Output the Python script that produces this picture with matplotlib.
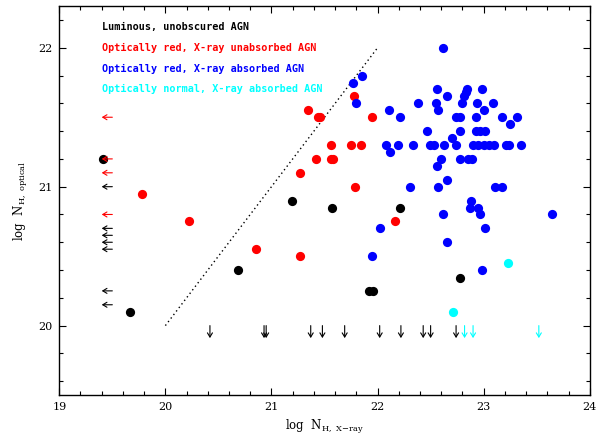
import matplotlib
matplotlib.use("Agg")
import matplotlib.pyplot as plt
from matplotlib.ticker import MultipleLocator

# ---------------- data ----------------
black_x = [19.41, 19.67, 20.68, 21.19, 21.57, 22.21, 21.92, 21.96, 22.78]
black_y = [21.20, 20.10, 20.40, 20.90, 20.85, 20.85, 20.25, 20.25, 20.34]

red_x = [19.78, 20.22, 20.85, 21.27, 21.34, 21.44, 21.46, 21.95, 21.78,
         21.56, 21.75, 21.84, 21.42, 21.56, 21.58, 21.27, 21.79, 22.16]
red_y = [20.95, 20.75, 20.55, 20.50, 21.55, 21.50, 21.50, 21.50, 21.65,
         21.30, 21.30, 21.30, 21.20, 21.20, 21.20, 21.10, 21.00, 20.75]

blue_x = [21.85, 21.77, 21.80, 22.11, 22.21, 22.38, 22.47, 22.08, 22.12,
          22.19, 22.33, 22.49, 22.31, 22.02, 21.95,
          22.62, 22.56, 22.84, 22.98, 22.65, 22.81, 22.83, 22.55, 22.57,
          22.80, 22.94, 23.09, 23.00, 22.74, 22.78, 22.93, 23.17, 23.31,
          23.25, 22.78, 22.93, 22.97, 23.01, 22.70,
          22.53, 22.63, 22.74, 22.90, 22.95, 23.00, 23.05, 23.10, 23.21,
          23.24, 23.35,
          22.60, 22.78, 22.85, 22.89, 22.56, 22.65, 22.57, 23.11, 23.17,
          22.88, 22.87, 22.95, 22.97, 22.62, 23.64, 23.01, 22.65, 22.98]
blue_y = [21.80, 21.75, 21.60, 21.55, 21.50, 21.60, 21.40, 21.30, 21.25,
          21.30, 21.30, 21.30, 21.00, 20.70, 20.50,
          22.00, 21.70, 21.70, 21.70, 21.65, 21.65, 21.68, 21.60, 21.55,
          21.60, 21.60, 21.60, 21.55, 21.50, 21.50, 21.50, 21.50, 21.50,
          21.45, 21.40, 21.40, 21.40, 21.40, 21.35,
          21.30, 21.30, 21.30, 21.30, 21.30, 21.30, 21.30, 21.30, 21.30,
          21.30, 21.30,
          21.20, 21.20, 21.20, 21.20, 21.15, 21.05, 21.00, 21.00, 21.00,
          20.90, 20.85, 20.85, 20.80, 20.80, 20.80, 20.70, 20.60, 20.40]

cyan_x = [23.23, 22.71]
cyan_y = [20.45, 20.10]

# upper limits on X-ray N_H (left arrows)
left_arrow_black_y = [21.00, 20.70, 20.65, 20.60, 20.55, 20.25, 20.15]
left_arrow_red_y = [21.50, 21.20, 21.10, 20.80]
left_arrow_from, left_arrow_to = 19.50, 19.40

# upper limits on optical N_H (down arrows)
down_arrow_black_x = [20.42, 20.93, 20.95, 21.37, 21.48, 21.69, 22.02,
                      22.22, 22.43, 22.50, 22.74]
down_arrow_cyan_x = [22.82, 22.90, 23.52]
down_arrow_from, down_arrow_to = 20.00, 19.91

line_x = [20.0, 22.0]
line_y = [20.0, 22.0]

legend_labels = ["Luminous, unobscured AGN",
                 "Optically red, X-ray unabsorbed AGN",
                 "Optically red, X-ray absorbed AGN",
                 "Optically normal, X-ray absorbed AGN"]
legend_colors = ["black", "red", "blue", "cyan"]
legend_x = 19.40
legend_y = [22.15, 22.00, 21.85, 21.70]

# ---------------- plot ----------------
plt.rcParams['mathtext.fontset'] = 'dejavuserif'
fig = plt.figure(figsize=(6.08, 4.37), dpi=100)
ax = fig.add_axes([0.0975, 0.096, 0.8725, 0.890])

ax.plot(line_x, line_y, linestyle=(0, (1, 2.2)), color='black', lw=1.0)

ms = 44
ax.scatter(black_x, black_y, s=ms, color='black', zorder=3, linewidths=0)
ax.scatter(red_x, red_y, s=ms, color='red', zorder=3, linewidths=0)
ax.scatter(blue_x, blue_y, s=ms, color='blue', zorder=3, linewidths=0)
ax.scatter(cyan_x, cyan_y, s=ms, color='cyan', zorder=3, linewidths=0)

aprops = dict(arrowstyle='->,head_length=0.3,head_width=0.18', lw=0.8,
              shrinkA=0, shrinkB=0)
for y in left_arrow_black_y:
    ax.annotate('', xy=(left_arrow_to, y), xytext=(left_arrow_from, y),
                arrowprops=dict(aprops, color='black'), zorder=4)
for y in left_arrow_red_y:
    ax.annotate('', xy=(left_arrow_to, y), xytext=(left_arrow_from, y),
                arrowprops=dict(aprops, color='red'), zorder=4)
for x in down_arrow_black_x:
    ax.annotate('', xy=(x, down_arrow_to), xytext=(x, down_arrow_from),
                arrowprops=dict(aprops, color='black'), zorder=4)
for x in down_arrow_cyan_x:
    ax.annotate('', xy=(x, down_arrow_to), xytext=(x, down_arrow_from),
                arrowprops=dict(aprops, color='cyan'), zorder=4)

for lab, col, y in zip(legend_labels, legend_colors, legend_y):
    ax.text(legend_x, y, lab, color=col, fontsize=7.3, fontweight='bold',
            family='DejaVu Sans Mono', va='center', ha='left')

ax.set_xlim(19, 24)
ax.set_ylim(19.5, 22.3)
ax.xaxis.set_major_locator(MultipleLocator(1))
ax.xaxis.set_minor_locator(MultipleLocator(0.2))
ax.yaxis.set_major_locator(MultipleLocator(1))
ax.yaxis.set_minor_locator(MultipleLocator(0.2))
ax.tick_params(which='both', direction='in', top=True, right=True,
               labelsize=8, pad=5, width=0.8)
ax.tick_params(which='major', length=5)
ax.tick_params(which='minor', length=3)
for lab in ax.get_xticklabels() + ax.get_yticklabels():
    lab.set_family('DejaVu Serif')
for sp in ax.spines.values():
    sp.set_linewidth(1.0)

ax.set_xlabel(r'log  N$_{\mathrm{H,\ X\!-\!ray}}$', fontsize=8.5,
              family='DejaVu Serif', labelpad=4)
ax.set_ylabel(r'log  N$_{\mathrm{H,\ optical}}$', fontsize=8.5,
              family='DejaVu Serif', labelpad=6)

fig.savefig('out.png', dpi=100)
